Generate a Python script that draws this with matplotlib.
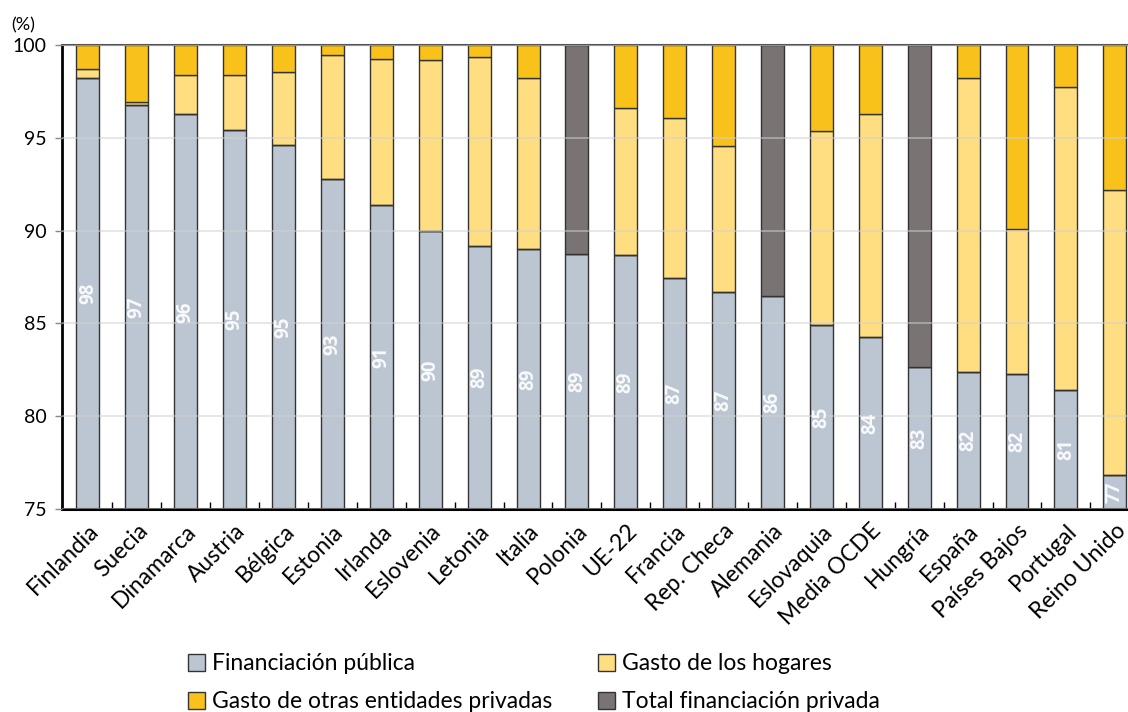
import numpy as np
import matplotlib.pyplot as plt
from matplotlib.patches import Patch

plt.rcParams['font.family'] = ['Lato', 'DejaVu Sans']

countries = ['Finlandia', 'Suecia', 'Dinamarca', 'Austria', 'Bélgica', 'Estonia',
             'Irlanda', 'Eslovenia', 'Letonia', 'Italia', 'Polonia', 'UE-22',
             'Francia', 'Rep. Checa', 'Alemania', 'Eslovaquia', 'Media OCDE',
             'Hungría', 'España', 'Países Bajos', 'Portugal', 'Reino Unido']
publico = [98.24, 96.77, 96.25, 95.40, 94.63, 92.80, 91.38, 90.00, 89.19, 88.99,
           88.76, 88.67, 87.45, 86.71, 86.48, 84.93, 84.25, 82.65, 82.40, 82.27,
           81.43, 76.83]
# cumulative top of household spending (nan where only total private is given)
hogares_top = [98.72, 96.94, 98.37, 98.37, 98.55, 99.48, 99.26, 99.16, 99.37, 98.24,
               np.nan, 96.62, 96.05, 94.54, np.nan, 95.35, 96.25, np.nan, 98.24,
               90.07, 97.74, 92.20]
total_privado = [np.nan] * 10 + [11.24] + [np.nan] * 3 + [13.52] + [np.nan] * 2 + [17.35] + [np.nan] * 4

c_pub = '#bcc6d2'
c_hog = '#ffde82'
c_otr = '#f9c21a'
c_tot = '#797373'
edge = '#333333'

publico = np.array(publico)
hogares_top = np.array(hogares_top)
total_privado = np.array(total_privado)
hogares = hogares_top - publico
otras = 100 - hogares_top

fig = plt.figure(figsize=(11.28, 7.12), dpi=100)
ax = fig.add_axes([0.055, 0.285, 0.945, 0.652])

x = np.arange(len(countries))
w = 0.47
kw = dict(width=w, edgecolor=edge, linewidth=1.0, zorder=2)
ax.bar(x, publico - 75, bottom=75, color=c_pub, **kw)
ax.bar(x, np.nan_to_num(hogares), bottom=publico, color=c_hog, **kw)
ax.bar(x, np.nan_to_num(otras), bottom=np.nan_to_num(hogares_top), color=c_otr, **kw)
ax.bar(x, np.nan_to_num(total_privado), bottom=publico, color=c_tot, **kw)

for xi, v in zip(x, publico):
    ax.text(xi, (75 + v) / 2, f'{v:.0f}', rotation=90, ha='center', va='center',
            color='white', alpha=0.9, fontsize=13.5, fontweight='bold',
            family=['Open Sans', 'DejaVu Sans'], zorder=4)

ax.set_ylim(75, 100)
ax.set_xlim(-0.53, 21.27)
ax.set_yticks(np.arange(75, 101, 5))
ax.yaxis.grid(True, color='#d0d0d0', linewidth=1.2, alpha=0.6)
ax.set_axisbelow(False)
for ln in ax.get_ygridlines():
    ln.set_zorder(3)

ax.set_xticks(x)
ax.set_xticklabels(countries, rotation=45, ha='right', rotation_mode='anchor', fontsize=16.5)
ax.tick_params(axis='x', length=0, pad=8)
ax.set_xticks(x[:-1] + 0.5, minor=True)
ax.tick_params(axis='x', which='minor', direction='in', length=5, width=1, color='black')
ax.tick_params(axis='y', labelsize=14, length=5, width=1, color='#888888', pad=6)

ax.spines['left'].set_linewidth(2)
ax.spines['bottom'].set_linewidth(2.2)
ax.spines['top'].set_color('#555555')
ax.spines['top'].set_linewidth(1.5)
ax.spines['right'].set_visible(False)

fig.text(0.010, 0.965, '(%)', fontsize=13, ha='left', va='center')

handles = [Patch(facecolor=c_pub, edgecolor=edge, label='Financiación pública'),
           Patch(facecolor=c_otr, edgecolor=edge, label='Gasto de otras entidades privadas'),
           Patch(facecolor=c_hog, edgecolor=edge, label='Gasto de los hogares'),
           Patch(facecolor=c_tot, edgecolor=edge, label='Total financiación privada')]
fig.legend(handles=handles, ncol=2, loc='center', bbox_to_anchor=(0.473, 0.041),
           frameon=False, fontsize=16.5, handlelength=0.75, handleheight=0.75,
           handletextpad=0.3, columnspacing=2.0, labelspacing=0.75)

fig.savefig('out.png', dpi=100)
